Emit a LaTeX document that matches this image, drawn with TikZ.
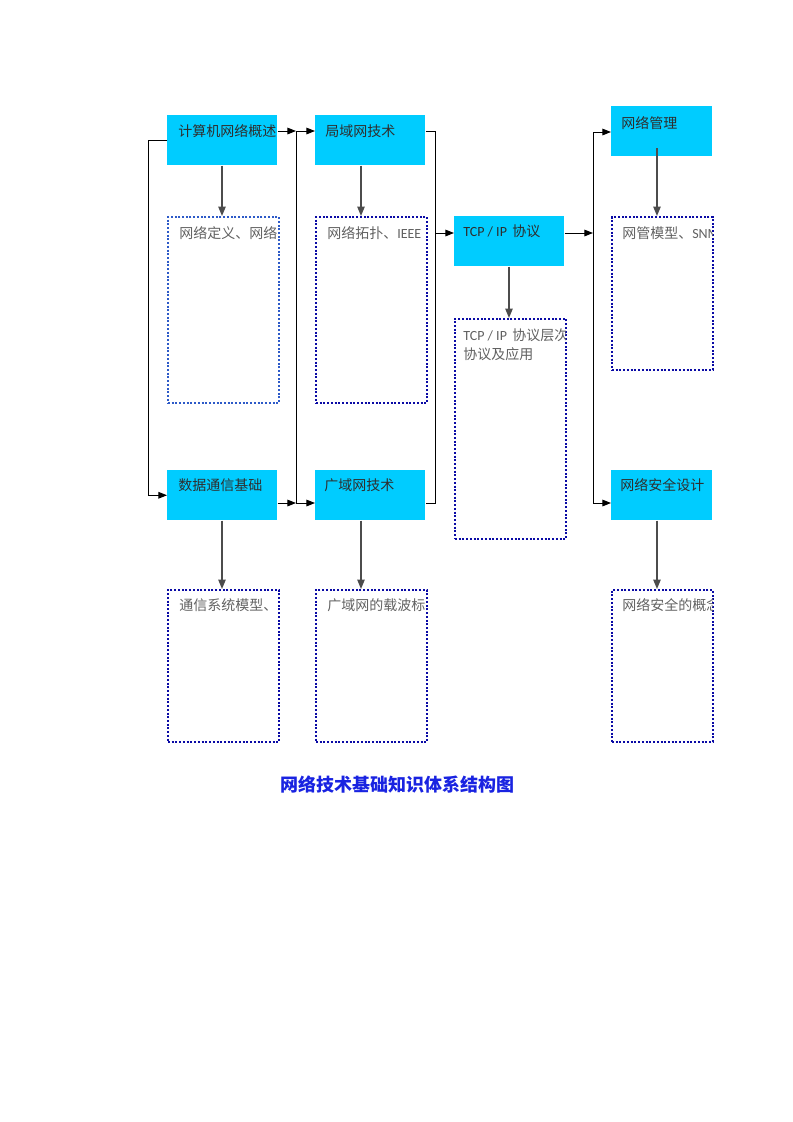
\documentclass[tikz,border=0pt]{standalone}
\usepackage{fontspec}
\setmainfont{Carlito}
\newfontfamily\cjk{Noto Sans CJK SC}
\usetikzlibrary{arrows.meta, positioning, calc}
\definecolor{boxcyan}{RGB}{0,204,255}
\definecolor{dotnavy}{RGB}{10,10,165}
\definecolor{dotblue}{RGB}{45,90,200}
\definecolor{titleblue}{RGB}{25,35,225}
\newcommand{\zh}[1]{{\cjk #1}}
\newcommand{\drawc}{\draw[line width=0.75pt]}
\tikzset{
  topic/.style={fill=boxcyan, anchor=north west, inner sep=0pt, minimum width=82.5pt, minimum height=37.5pt},
  detail/.style={draw=dotnavy, line width=1.5pt, dash pattern=on 1.5pt off 1.3pt, anchor=north west, inner sep=0pt, minimum width=83.25pt},
  boxtext/.style={anchor=west, inner sep=0pt, font=\fontsize{10.5pt}{14.25pt}\selectfont, text=black!82},
  notetext/.style={boxtext, text=black!62},
  down/.style={-{Triangle[length=7pt,width=5.5pt]}, draw=black!70, line width=1pt},
}

\begin{document}
\begin{tikzpicture}[x=0.75pt, y=-0.75pt, >={Triangle[length=6.5pt,width=5pt]}]
\useasboundingbox (0,0) rectangle (793,1122);
% Khung chu de
\node[topic] (overview) at (167,115) {};
\node[topic] (lan) at (315,115) {};
\node[topic] (tcpip) at (454,216) {};
\node[topic, minimum width=75.75pt] (mgmt) at (611,106) {};
\node[topic] (datacom) at (167,470) {};
\node[topic] (wan) at (315,470) {};
\node[topic, minimum width=75.75pt] (security) at (611,470) {};

\node[boxtext] (overviewt) at ([shift={(11,16)}]overview.north west) {\zh{计算机网络概述}};
\node[boxtext] (lant) at ([shift={(10,16)}]lan.north west) {\zh{局域网技术}};
\node[boxtext] (tcpipt) at ([shift={(9,15)}]tcpip.north west) {TCP / IP\, \zh{协议}};
\node[boxtext] (mgmtt) at ([shift={(10,17)}]mgmt.north west) {\zh{网络管理}};
\node[boxtext] (datacomt) at ([shift={(11,15)}]datacom.north west) {\zh{数据通信基础}};
\node[boxtext] (want) at ([shift={(9,15)}]wan.north west) {\zh{广域网技术}};
\node[boxtext] (securityt) at ([shift={(9,15)}]security.north west) {\zh{网络安全设计}};

% Khung noi dung (cham)
\node[detail, draw=dotblue, minimum height=139.5pt] (overviewd) at (167,216) {};
\node[detail, minimum height=139.5pt] (land) at (315,216) {};
\node[detail, minimum height=165pt] (tcpipd) at (454,318) {};
\node[detail, minimum width=75.75pt, minimum height=114.75pt] (mgmtd) at (611,216) {};
\node[detail, minimum height=114pt] (datacomd) at (167,589) {};
\node[detail, minimum height=114pt] (wand) at (315,589) {};
\node[detail, minimum width=75.75pt, minimum height=114pt] (securityd) at (611,589) {};

\node[notetext] (overviewn) at ([shift={(12,17)}]overviewd.north west) {\zh{网络定义、网络}};
\node[notetext] (lann) at ([shift={(12,17)}]land.north west) {\zh{网络拓扑、}IEEE};
\node[notetext] (datacomn) at ([shift={(12,16)}]datacomd.north west) {\zh{通信系统模型、}};
\node[notetext] (wann) at ([shift={(12,16)}]wand.north west) {\zh{广域网的载波标}};
\begin{scope}
\clip (450,310) rectangle (565,545);
\node[notetext, anchor=north west, align=left] (tcpipn) at ([shift={(9,10)}]tcpipd.north west) {TCP / IP\, \zh{协议层次}\\\zh{协议及应用}};
\end{scope}
\begin{scope}
\clip (605,205) rectangle (712,750);
\node[notetext] (mgmtn) at ([shift={(11,17)}]mgmtd.north west) {\zh{网管模型、}SNMP};
\node[notetext] (securityn) at ([shift={(11,16)}]securityd.north west) {\zh{网络安全的概念}};
\end{scope}

% Truc noi
\coordinate (busa) at (296,131);
\coordinate (busb) at (296,503);
\coordinate (busc) at (435,131);
\coordinate (busd) at (435,503);
\coordinate (buse) at (435,233);
\coordinate (busf) at (593,132);
\coordinate (busg) at (593,503);
\coordinate (bush) at (593,233);

\drawc[->] (overview.west) -- ++(-19,0) |- (datacom.west);
\drawc[->] (overview.east |- busa) -- (busa);
\drawc (busa) -- (busb);
\drawc[->] (busa) -- (lan.west |- busa);
\drawc[->] (datacom.east |- busb) -- (busb);
\drawc[->] (busb) -- (wan.west |- busb);

\drawc (lan.east |- busc) -- (busc) -- (busd) -- (wan.east |- busd);
\drawc[->] (buse) -- (tcpip.west |- buse);

\drawc[->] (tcpip.east |- bush) -- (bush);
\drawc (busf) -- (busg);
\drawc[->] (busf) -- (mgmt.west |- busf);
\drawc[->] (busg) -- (security.west |- busg);

% Mui ten xuong
\coordinate (cola) at (222,0);
\coordinate (colb) at (361,0);
\coordinate (colc) at (509,0);
\coordinate (cold) at (657,0);
\coordinate (mgmtout) at (657,148);
\draw[down] (cola |- overview.south) -- (cola |- overviewd.north);
\draw[down] (colb |- lan.south) -- (colb |- land.north);
\draw[down] (colc |- tcpip.south) -- (colc |- tcpipd.north);
\draw[down] (mgmtout) -- (cold |- mgmtd.north);
\draw[down] (cola |- datacom.south) -- (cola |- datacomd.north);
\draw[down] (colb |- wan.south) -- (colb |- wand.north);
\draw[down] (cold |- security.south) -- (cold |- securityd.north);

% Tieu de
\node[font=\cjk\bfseries\fontsize{13.5pt}{16pt}\selectfont, text=titleblue] (title) at (397,785) {网络技术基础知识体系结构图};
\end{tikzpicture}
\end{document}
